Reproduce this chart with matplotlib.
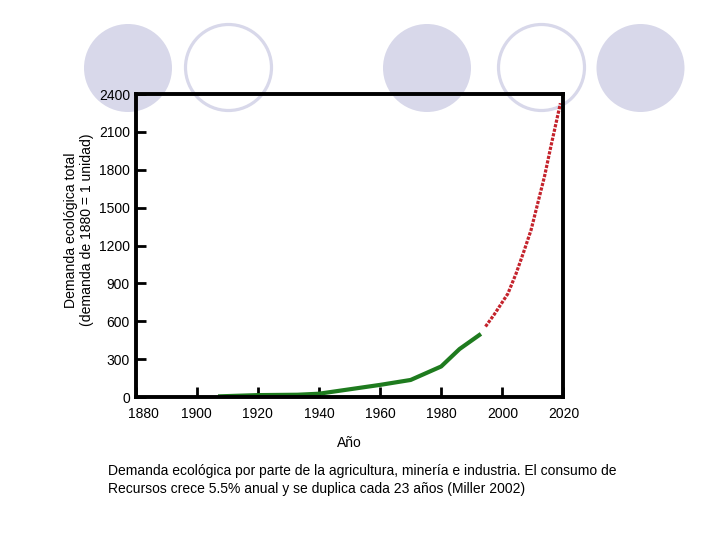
import matplotlib.pyplot as plt
from matplotlib.patches import Ellipse
from matplotlib.transforms import ScaledTranslation

plt.rcParams['font.family'] = ['Liberation Sans', 'DejaVu Sans']

# datos
anios_hist = [1907, 1920, 1933, 1940, 1950, 1960, 1970, 1980, 1986, 1993]
demanda_hist = [5, 15, 18, 26, 61, 96, 135, 242, 380, 500]

anios_proy = [1994.5, 1997.5, 2001.8, 2004.5, 2007.2, 2009.4, 2011.6, 2013.8, 2015.9, 2017.6, 2019]
demanda_proy = [558, 659, 818, 978, 1164, 1323, 1536, 1748, 1987, 2173, 2327]

xticks = [1880, 1900, 1920, 1940, 1960, 1980, 2000, 2020]
yticks = [0, 300, 600, 900, 1200, 1500, 1800, 2100, 2400]

fig = plt.figure(figsize=(7.2, 5.4), dpi=100)

# circulos decorativos de la diapositiva
lila = '#d8d8ea'
for cx, relleno in [(128, True), (228.5, False), (427, True), (541.5, False), (640.5, True)]:
    if relleno:
        e = Ellipse((cx / 720, 1 - 68 / 540), 88 / 720, 88 / 540,
                    transform=fig.transFigure, facecolor=lila, edgecolor='none', zorder=0)
    else:
        e = Ellipse((cx / 720, 1 - 67.5 / 540), 86 / 720, 86 / 540,
                    transform=fig.transFigure, facecolor='none', edgecolor=lila,
                    linewidth=2.3, zorder=0)
    fig.patches.append(e)

ax = fig.add_axes([0.1882, 0.2648, 0.5944, 0.5611])
ax.set_zorder(2)
ax.patch.set_alpha(0)

ax.plot(anios_hist, demanda_hist, color='#1e7b1e', linewidth=3, solid_capstyle='butt')
ax.plot(anios_proy, demanda_proy, color='#c4232c', linewidth=2.3, dashes=(1.0, 0.45))

ax.set_xlim(1880, 2020)
ax.set_ylim(0, 2400)
ax.set_xticks(xticks)
ax.set_yticks(yticks)
ax.tick_params(direction='in', length=7, width=2, labelsize=10, color='black')
ax.tick_params(axis='x', pad=7)
ax.tick_params(axis='y', pad=4)

# la etiqueta 1880 aparece algo desplazada a la derecha
lbl = ax.get_xticklabels()[0]
lbl.set_transform(lbl.get_transform() + ScaledTranslation(0.08, 0, fig.dpi_scale_trans))

for s in ax.spines.values():
    s.set_linewidth(2.8)

ax.set_xlabel('Año', fontsize=10, labelpad=11)
ax.set_ylabel('Demanda ecológica total\n(demanda de 1880 = 1 unidad)', fontsize=10.1)
ax.yaxis.set_label_coords(-0.097, 0.551)

fig.text(108 / 720, 1 - 480 / 540,
         'Demanda ecológica por parte de la agricultura, minería e industria. El consumo de\n'
         'Recursos crece 5.5% anual y se duplica cada 23 años (Miller 2002)',
         fontsize=10, va='center', ha='left', linespacing=1.35)

fig.savefig('out.png', dpi=100)
